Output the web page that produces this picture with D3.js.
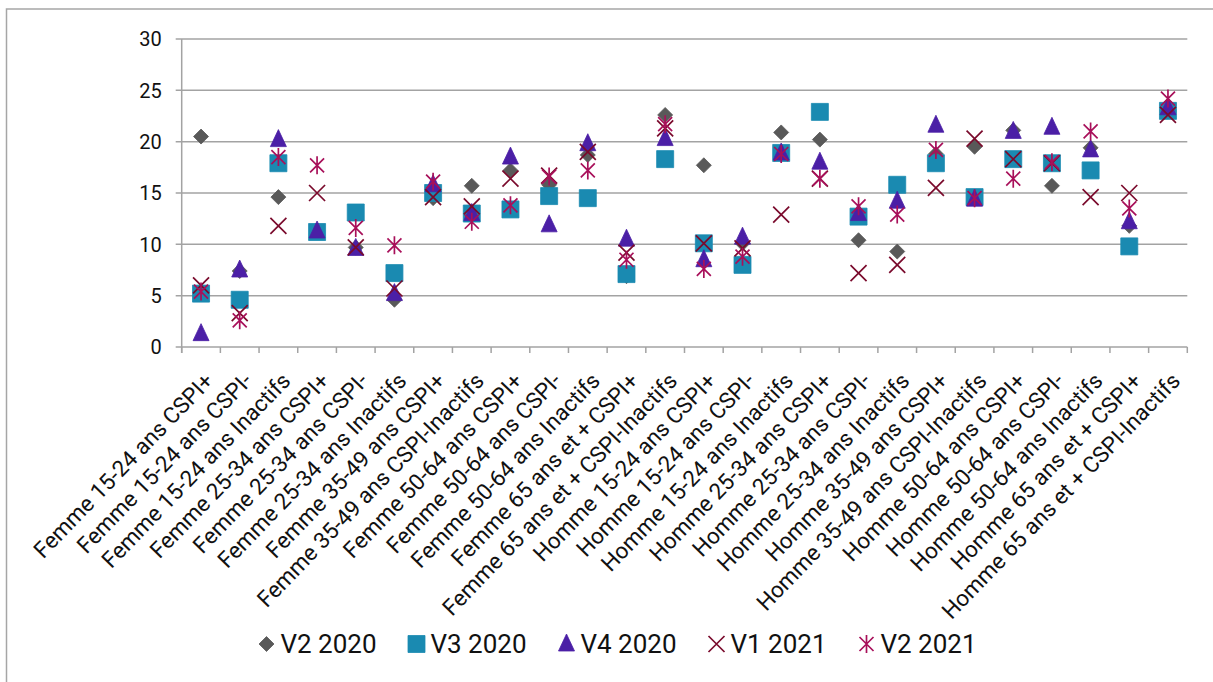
<!DOCTYPE html>
<html><head><meta charset="utf-8">
<script src="https://cdn.jsdelivr.net/npm/d3@7"></script>
<style>
body{margin:0;background:#fff;}
svg{display:block;font-family:Roboto,"Noto Sans",sans-serif;}
</style>
</head><body>
<svg id="chart" width="1213" height="682"></svg>
<script>
const categories = [
  "Femme 15-24 ans CSPI+","Femme 15-24 ans CSPI-","Femme 15-24 ans Inactifs",
  "Femme 25-34 ans CSPI+","Femme 25-34 ans CSPI-","Femme 25-34 ans Inactifs",
  "Femme 35-49 ans CSPI+","Femme 35-49 ans CSPI-Inactifs",
  "Femme 50-64 ans CSPI+","Femme 50-64 ans CSPI-","Femme 50-64 ans Inactifs",
  "Femme 65 ans et + CSPI+","Femme 65 ans et + CSPI-Inactifs",
  "Homme 15-24 ans CSPI+","Homme 15-24 ans CSPI-","Homme 15-24 ans Inactifs",
  "Homme 25-34 ans CSPI+","Homme 25-34 ans CSPI-","Homme 25-34 ans Inactifs",
  "Homme 35-49 ans CSPI+","Homme 35-49 ans CSPI-Inactifs",
  "Homme 50-64 ans CSPI+","Homme 50-64 ans CSPI-","Homme 50-64 ans Inactifs",
  "Homme 65 ans et + CSPI+","Homme 65 ans et + CSPI-Inactifs"
];
const seriesNames = ["V2 2020","V3 2020","V4 2020","V1 2021","V2 2021"];
const v2_2020 = [20.5,7.4,14.6,11.2,9.7,4.6,14.5,15.7,17.2,15.8,18.7,6.9,22.6,17.7,10.1,20.9,20.2,10.4,9.3,18.8,19.5,21.1,15.7,19.4,11.8,23.5];
const v3_2020 = [5.2,4.6,17.9,11.2,13.1,7.2,15.0,13.0,13.4,14.7,14.5,7.1,18.3,10.1,8.0,18.9,22.9,12.7,15.8,17.9,14.6,18.3,17.9,17.2,9.8,23.0];
const v4_2020 = [1.3,7.5,20.2,11.3,9.6,5.2,15.8,13.0,18.5,11.9,19.8,10.5,20.3,8.5,10.7,18.9,18.0,13.0,14.2,21.6,14.4,21.0,21.4,19.2,12.2,23.3];
const v1_2021 = [6.0,3.3,11.8,15.0,9.7,5.7,14.6,13.7,16.4,16.7,19.0,9.2,21.3,10.1,9.6,12.9,16.4,7.2,8.0,15.5,20.3,18.3,17.9,14.6,15.0,22.6];
const v2_2021 = [5.4,2.6,18.5,17.7,11.6,9.9,16.1,12.2,13.8,16.6,17.2,8.5,21.7,7.6,8.8,18.8,16.4,13.7,12.9,19.2,14.5,16.4,18.0,21.0,13.5,24.2];
const yTicks = [0,5,10,15,20,25,30];

const seriesValues = [v2_2020, v3_2020, v4_2020, v1_2021, v2_2021];
const colors = ["#595959","#1a8ab1","#4b1fa6","#7a0a2c","#a8105a"];
const shapes = ["diamond","square","triangle","x","star"];

const svg = d3.select("#chart");
const plot = {left:181.7, right:1187.3, top:39, bottom:347};

const x = d3.scaleBand().domain(categories).range([plot.left, plot.right]).padding(0);
const y = d3.scaleLinear().domain([0,30]).range([plot.bottom, plot.top]);

// outer border (top & left visible)
svg.append("rect").attr("x",6.5).attr("y",9).attr("width",1240).attr("height",720)
  .attr("fill","none").attr("stroke","#a6a6a6").attr("stroke-width",1.5);

// gridlines
svg.append("g").selectAll("line").data(yTicks).join("line")
  .attr("x1",plot.left-6).attr("x2",plot.right)
  .attr("y1",d=>y(d)).attr("y2",d=>y(d))
  .attr("stroke","#a3a3a3").attr("stroke-width",1.5);

// y axis line
svg.append("line").attr("x1",plot.left).attr("x2",plot.left)
  .attr("y1",plot.top).attr("y2",plot.bottom+6)
  .attr("stroke","#a3a3a3").attr("stroke-width",1.5);

// x axis ticks at category boundaries
const bounds = categories.map(c=>x(c)).concat([x(categories[categories.length-1])+x.bandwidth()]);
svg.append("g").selectAll("line").data(bounds).join("line")
  .attr("x1",d=>d).attr("x2",d=>d).attr("y1",plot.bottom).attr("y2",plot.bottom+6)
  .attr("stroke","#a3a3a3").attr("stroke-width",1.5);

// y labels
svg.append("g").selectAll("text").data(yTicks).join("text")
  .attr("x",plot.left-20).attr("y",d=>y(d)).attr("dy","0.36em")
  .attr("text-anchor","end").attr("font-size",20).attr("fill","#111")
  .text(d=>d);

// x labels
svg.append("g").selectAll("text").data(categories).join("text")
  .attr("transform",d=>`translate(${x(d)+x.bandwidth()/2+2},${plot.bottom+24}) rotate(-46)`)
  .attr("dy","0.71em")
  .attr("text-anchor","end").attr("font-size",22.5).attr("fill","#111")
  .text(d=>d);

function markerPath(shape){
  switch(shape){
    case "diamond": return "M0,-7.5L7.5,0L0,7.5L-7.5,0Z";
    case "square": return "M-8.5,-8.5H8.5V8.5H-8.5Z";
    case "triangle": return "M0,-10L8,7H-8Z";
    case "x": return "M-8,-8L8,8M8,-8L-8,8";
    case "star": return "M0,-9V9M-7,-7L7,7M7,-7L-7,7";
  }
}
function drawMarker(g, shape, color){
  const filled = shape==="diamond"||shape==="square"||shape==="triangle";
  g.append("path").attr("d",markerPath(shape))
    .attr("fill",filled?color:"none")
    .attr("stroke",color).attr("stroke-width",filled?0.8:1.7);
}

seriesValues.forEach((vals,si)=>{
  const g = svg.append("g");
  g.selectAll("g").data(vals).join("g")
    .attr("transform",(v,i)=>`translate(${x(categories[i])+x.bandwidth()/2},${y(v)})`)
    .each(function(){ drawMarker(d3.select(this), shapes[si], colors[si]); });
});

// legend
const legend = svg.append("g");
seriesNames.forEach((name,i)=>{
  const cx = 266.5 + i*150;
  const item = legend.append("g").attr("transform",`translate(${cx},644)`);
  drawMarker(item, shapes[i], colors[i]);
  legend.append("text").attr("x",cx+14).attr("y",644).attr("dy","0.36em")
    .attr("font-size",26).attr("fill","#111").text(name);
});
</script>
</body></html>
